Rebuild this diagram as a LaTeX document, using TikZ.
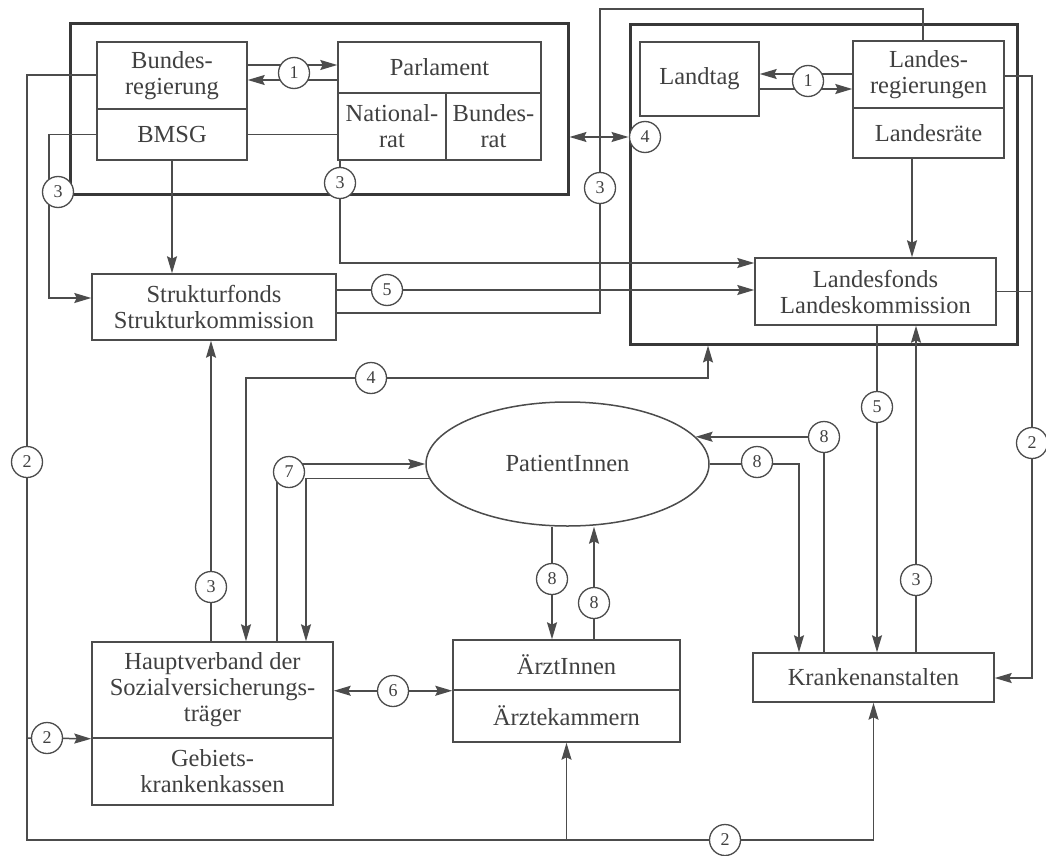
\documentclass[tikz,border=0pt]{standalone}
\usepackage{fontspec}
\setmainfont{Liberation Serif}
\usetikzlibrary{arrows.meta,shapes.geometric}
\definecolor{linec}{gray}{0.30}
\definecolor{framec}{gray}{0.22}
\definecolor{textc}{gray}{0.25}
\begin{document}
\begin{tikzpicture}[x=1pt,y=-1pt,
  conn/.style={draw=linec, line width=1.5pt},
  arr/.style={conn, -{Stealth[length=17pt,width=10pt,inset=2.5pt]}},
  arrs/.style={conn, {Stealth[length=17pt,width=10pt,inset=2.5pt]}-{Stealth[length=17pt,width=10pt,inset=2.5pt]}},
  box/.style={draw=linec, line width=1.5pt, rectangle, inner sep=0pt, align=center, text=textc, font=\fontsize{24.5}{26}\selectfont},
  frame/.style={draw=framec, line width=3pt, rectangle, inner sep=0pt},
  lbl/.style={circle, draw=linec, fill=white, line width=1.3pt, minimum size=31pt, inner sep=0pt, text=textc, font=\fontsize{18}{18}\selectfont}
]
\fill[white] (0,0) rectangle (1046,856);
\useasboundingbox (0,0) rectangle (1046,856);

% frames
\node[frame, minimum width=498pt, minimum height=170pt] (bund) at (319,109) {};
\node[frame, minimum width=387pt, minimum height=319pt] (land) at (823.5,184.5) {};

% federal
\node[box, minimum width=150pt, minimum height=67pt] (bureg) at (172,75.5) {Bundes-\\regierung};
\node[box, minimum width=150pt, minimum height=51pt] (bmsg) at (172,134.5) {BMSG};
\node[box, minimum width=203pt, minimum height=51pt] (parl) at (439.5,67.5) {Parlament};
\node[box, minimum width=108pt, minimum height=67pt] (nrat) at (392,126.5) {National-\\rat};
\node[box, minimum width=95pt, minimum height=67pt] (brat) at (493.5,126.5) {Bundes-\\rat};

% land
\node[box, minimum width=119pt, minimum height=74pt] (ltag) at (699.5,79) {Landtag};
\node[box, minimum width=151pt, minimum height=67pt] (lreg) at (928.5,74.5) {Landes-\\regierungen};
\node[box, minimum width=151pt, minimum height=50pt] (lrat) at (928.5,133) {Landesräte};
\node[box, minimum width=241pt, minimum height=67pt] (lfonds) at (875.5,291.5) {Landesfonds\\Landeskommission};

% others
\node[box, minimum width=244pt, minimum height=66pt] (sfonds) at (214,307) {Strukturfonds\\Strukturkommission};
\node[box, ellipse, minimum width=283pt, minimum height=124pt] (pat) at (567.5,464) {PatientInnen};
\node[box, minimum width=241pt, minimum height=96pt] (hv) at (212.5,690) {Hauptverband der\\Sozialversicherungs-\\träger};
\node[box, minimum width=241pt, minimum height=67pt] (gkk) at (212.5,771.5) {Gebiets-\\krankenkassen};
\node[box, minimum width=227pt, minimum height=50pt] (arzt) at (566.5,665) {ÄrztInnen};
\node[box, minimum width=227pt, minimum height=52pt] (kammer) at (566.5,716) {Ärztekammern};
\node[box, minimum width=241pt, minimum height=49pt] (kranken) at (873.5,677.5) {Krankenanstalten};

\coordinate (j2) at (27,738);

% (1) federal
\draw[arr] (bureg.east |- 0,65) -- (parl.west |- 0,65);
\draw[arr] (parl.west |- 0,80) -- (bureg.east |- 0,80);
% (1) land
\draw[arr] (lreg.west |- 0,74) -- (ltag.east |- 0,74);
\draw[arr] (ltag.east |- 0,89) -- (lreg.west |- 0,89);
% BMSG - Nationalrat
\draw[conn] (bmsg.east) -- (nrat.west |- bmsg.east);
% (3) BMSG -> Strukturfonds left
\draw[arr] (bmsg.west) -| (49,298) -- (sfonds.west |- 0,298);
% BMSG -> Strukturfonds
\draw[arr] (bmsg.south) -- (sfonds.north -| bmsg.south);
% (3) Nationalrat -> Landesfonds
\draw[arr] (nrat.south -| 340,0) -- (340,263) -- (lfonds.west |- 0,263);
% (5) Strukturfonds -> Landesfonds
\draw[arr] (sfonds.east |- 0,290) -- (lfonds.west |- 0,290);
% (3) Strukturfonds - Landesregierungen
\draw[conn] (sfonds.east |- 0,313) -- (600,313) -- (600,9) -- (923,9) -- (lreg.north -| 923,0);
% (4) Bund <-> Land
\draw[arrs] (bund.east |- 0,137) -- (land.west |- 0,137);
% Landesraete -> Landesfonds
\draw[arr] (lrat.south -| 912,0) -- (lfonds.north -| 912,0);
% (2) right
\draw[arr] (lreg.east |- 0,76) -| (1032,678) -- (kranken.east |- 0,678);
\draw[conn] (lfonds.east) -- (lfonds.east -| 1032,0);
% (4) Hauptverband <-> Land
\draw[arrs] (hv.north -| 246,0) -- (246,378) -- (708,378) -- (land.south -| 708,0);
% (3) Hauptverband -> Strukturfonds
\draw[arr] (hv.north -| 211,0) -- (sfonds.south -| 211,0);
% (7)
\draw[arr] (hv.north -| 277,0) |- (pat.west);
\draw[arr] (pat.186) -| (hv.north -| 306,0);
% (8) Aerzte
\draw[arr] (pat.south -| 552,0) -- (arzt.north -| 552,0);
\draw[arr] (arzt.north -| 594,0) -- (pat.south -| 594,0);
% (8) Krankenanstalten
\draw[arr] (kranken.north -| 824,0) |- (pat.12);
\draw[arr] (pat.east) -| (kranken.north -| 799,0);
% (5) Landesfonds -> Krankenanstalten
\draw[arr] (lfonds.south -| 877,0) -- (kranken.north -| 877,0);
% (3) Krankenanstalten -> Landesfonds
\draw[arr] (kranken.north -| 916,0) -- (lfonds.south -| 916,0);
% (6)
\draw[arrs] (hv.east |- arzt.south west) -- (arzt.south west);
% (2) left and bottom
\draw[arr] (bureg.west |- 0,75) -| (27,840) -| (kranken.south);
\draw[arr] (kammer.south |- 0,840) -- (kammer.south);
\draw[arr] (j2) -- (hv.south west);

% labels
\node[lbl] (l1a) at (294,73) {1};
\node[lbl] (l1b) at (808,81) {1};
\node[lbl] (l3a) at (58,192) {3};
\node[lbl] (l3b) at (340,183) {3};
\node[lbl] (l3c) at (600,188) {3};
\node[lbl] (l4a) at (645,137) {4};
\node[lbl] (l5a) at (387,290) {5};
\node[lbl] (l4b) at (371,378) {4};
\node[lbl] (l2a) at (27,462) {2};
\node[lbl] (l7) at (289,472) {7};
\node[lbl] (l3d) at (211,587) {3};
\node[lbl] (l2b) at (47,738) {2};
\node[lbl] (l6) at (393,691) {6};
\node[lbl] (l8a) at (552,579) {8};
\node[lbl] (l8b) at (594,603) {8};
\node[lbl] (l8c) at (824,437) {8};
\node[lbl] (l8d) at (757,462) {8};
\node[lbl] (l5b) at (877,407) {5};
\node[lbl] (l3e) at (916,580) {3};
\node[lbl] (l2c) at (1032,443) {2};
\node[lbl] (l2d) at (725,840) {2};
\end{tikzpicture}
\end{document}
